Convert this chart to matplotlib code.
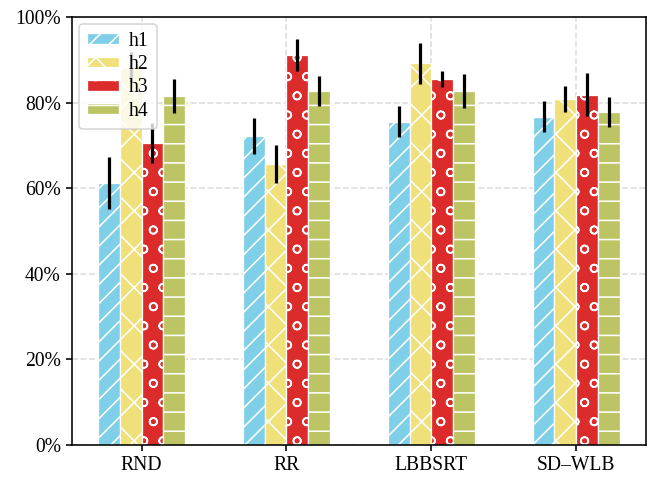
import numpy as np
import matplotlib
matplotlib.use("Agg")
from matplotlib import pyplot as plt
from matplotlib.ticker import PercentFormatter

plt.rcParams['font.family'] = ['Liberation Serif', 'DejaVu Serif']
plt.rcParams['font.size'] = 12.3
plt.rcParams['hatch.linewidth'] = 1.0

categories = ['RND', 'RR', 'LBBSRT', 'SD\u2013WLB']
series = ['h1', 'h2', 'h3', 'h4']

# mean values (%) per series, one entry per category
h1 = [61.2, 72.3, 75.5, 76.7]
h2 = [88.4, 65.6, 89.2, 80.8]
h3 = [70.6, 91.1, 85.5, 81.8]
h4 = [81.5, 82.7, 82.7, 77.7]

# error bar half lengths (%)
h1_err = [6.0, 4.2, 3.6, 3.6]
h2_err = [3.5, 4.5, 4.8, 3.1]
h3_err = [4.6, 3.8, 1.9, 5.0]
h4_err = [4.0, 3.5, 4.0, 3.5]

colors = ['#7ecfe7', '#f0e07a', '#dc2b2b', '#bcc463']
hatches = ['//', 'x', 'o', '-']

values = [h1, h2, h3, h4]
errors = [h1_err, h2_err, h3_err, h4_err]

dpi = 115
fig = plt.figure(figsize=(651 / dpi, 479 / dpi), dpi=dpi)
ax = fig.add_axes([72 / 651, 1 - 445 / 479, (645.7 - 72) / 651, (445 - 17) / 479])

x = np.arange(len(categories))
width = 0.15
for i in range(len(series)):
    ax.bar(x + (i - 1.5) * width, values[i], width, yerr=errors[i],
           color=colors[i], edgecolor='white', linewidth=0.8, hatch=hatches[i],
           label=series[i], zorder=2,
           error_kw=dict(ecolor='black', elinewidth=2.0, capsize=0, zorder=3))

ax.set_ylim(0, 100)
ax.set_yticks([0, 20, 40, 60, 80, 100])
ax.yaxis.set_major_formatter(PercentFormatter(xmax=100, decimals=0))
ax.set_xticks(x)
ax.set_xticklabels(categories)

ax.set_axisbelow(True)
ax.grid(True, linestyle='--', color='#dddddd', linewidth=1.0)
for s in ax.spines.values():
    s.set_linewidth(1.0)
    s.set_color('black')
ax.tick_params(direction='out', length=3.5, width=1.0, labelsize=12.3)

ax.legend(loc='upper left', fontsize=12.3, handlelength=1.65, handleheight=0.45,
          labelspacing=0.22, handletextpad=0.5, borderpad=0.4,
          borderaxespad=0.35, framealpha=0.8)

fig.savefig('out.png', dpi=dpi)
